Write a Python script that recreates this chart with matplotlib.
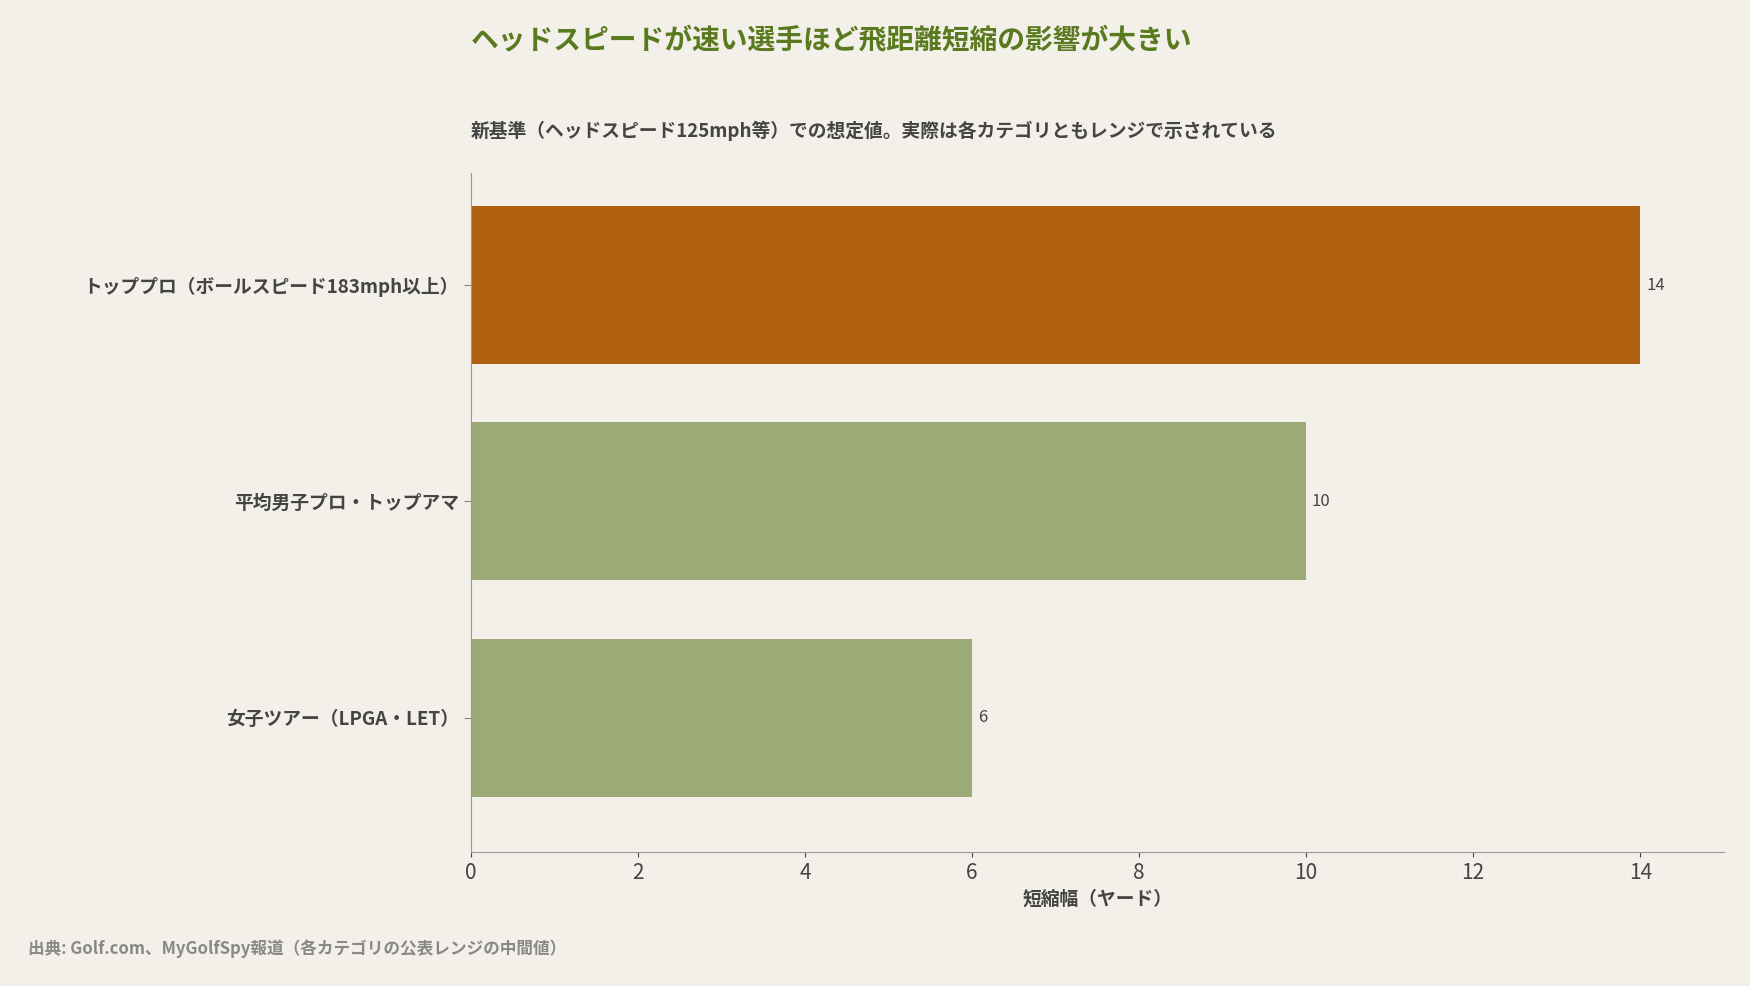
import matplotlib
matplotlib.use("Agg")
import matplotlib.pyplot as plt

plt.rcParams['font.family'] = ['Noto Sans CJK JP', 'DejaVu Sans']

categories = ["トッププロ（ボールスピード183mph以上）", "平均男子プロ・トップアマ", "女子ツアー（LPGA・LET）"]
values = [14, 10, 6]
colors = ["#b06210", "#9caa76", "#9caa76"]

BG = "#f3f0e9"
fig = plt.figure(figsize=(17.5, 9.86), dpi=100, facecolor=BG)
ax = fig.add_axes([0.269, 0.136, 0.716, 0.689], facecolor=BG)

ypos = list(range(len(categories)))[::-1]
ax.barh(ypos, values, height=0.73, color=colors)
for y, v in zip(ypos, values):
    ax.text(v + 0.07, y, str(v), va="center", ha="left", fontsize=12, color="#444444")

ax.set_xlim(0, 15)
ax.set_ylim(-0.62, 2.52)
ax.set_yticks(ypos)
ax.set_yticklabels(categories, fontsize=13.5, fontweight="bold", color="#444444")
ax.set_xticks(range(0, 15, 2))
ax.tick_params(axis="x", labelsize=15, colors="#444444")
ax.tick_params(axis="y", length=5, colors="#888888", labelcolor="#444444")
ax.set_xlabel("短縮幅（ヤード）", fontsize=13.5, fontweight="bold", color="#444444")
for s in ["top", "right"]:
    ax.spines[s].set_visible(False)
for s in ["left", "bottom"]:
    ax.spines[s].set_color("#999999")

fig.text(0.269, 0.958, "ヘッドスピードが速い選手ほど飛距離短縮の影響が大きい",
         fontsize=20, fontweight="bold", color="#5a7a1f", va="center")
fig.text(0.269, 0.867, "新基準（ヘッドスピード125mph等）での想定値。実際は各カテゴリともレンジで示されている",
         fontsize=13.5, fontweight="bold", color="#444444", va="center")
fig.text(0.016, 0.038, "出典: Golf.com、MyGolfSpy報道（各カテゴリの公表レンジの中間値）",
         fontsize=12, fontweight="bold", color="#888888", va="center")

fig.savefig("out.png", facecolor=BG)
